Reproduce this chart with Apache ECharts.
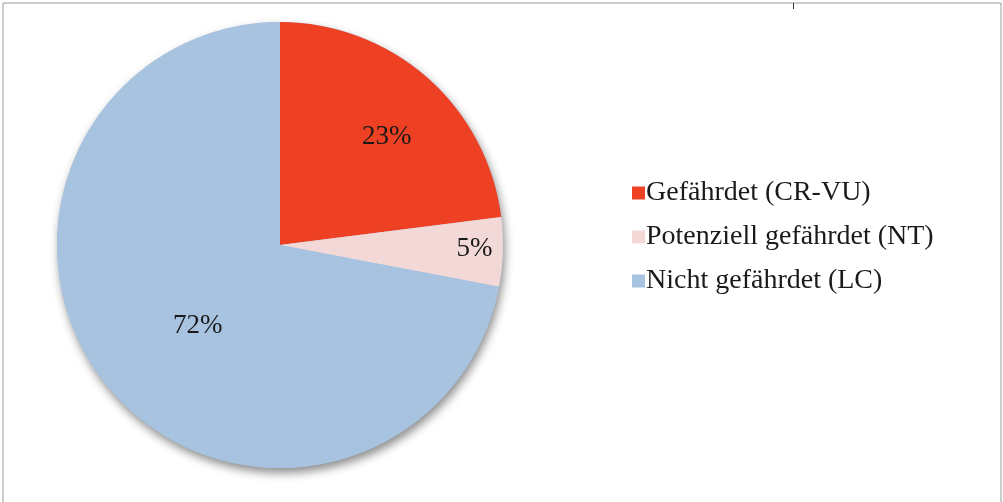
<!DOCTYPE html>
<html>
<head>
<meta charset="utf-8">
<script src="https://cdn.jsdelivr.net/npm/echarts@6/dist/echarts.min.js"></script>
<style>
  html, body { margin: 0; padding: 0; background: #fff; }
  #chart { width: 1003px; height: 502px; }
</style>
</head>
<body>
<div id="chart"></div>
<script>
const categories = ['Gefährdet (CR-VU)', 'Potenziell gefährdet (NT)', 'Nicht gefährdet (LC)'];
const shares = [23, 5, 72];
const colors = ['#ee4124', '#f3d8d8', '#a8c3e0'];

// label nudges (the original puts labels at varying distances from the centre)
const labelShift = [
  { dx: 31, dy: -22 },
  { dx: 80, dy: 0 },
  { dx: 6, dy: 8 },
];

const chart = echarts.init(document.getElementById('chart'));
const font = '"Liberation Serif", "Times New Roman", serif';

chart.setOption({
  animation: false,
  backgroundColor: '#fff',
  legend: {
    orient: 'vertical',
    left: 627,
    top: 174,
    itemWidth: 13,
    itemHeight: 13,
    itemGap: 16,
    icon: 'rect',
    textStyle: { fontFamily: font, fontSize: 28, color: '#1a1a1a', padding: [0, 0, 0, -4] },
    data: categories,
  },
  graphic: [
    {
      type: 'polyline',
      silent: true,
      shape: { points: [[3, 502], [3, 3], [1001, 3], [1001, 502]] },
      style: { stroke: '#999', lineWidth: 1, fill: null },
    },
    {
      type: 'line',
      silent: true,
      shape: { x1: 793.5, y1: 3, x2: 793.5, y2: 9 },
      style: { stroke: '#333', lineWidth: 1 },
    },
  ],
  series: [
    {
      // shadow layer under the pie
      type: 'pie',
      silent: true,
      center: [280, 245],
      radius: 223,
      startAngle: 90,
      label: { show: false },
      itemStyle: {
        color: '#a8c3e0',
        shadowBlur: 10,
        shadowOffsetY: 5,
        shadowOffsetX: 2,
        shadowColor: 'rgba(0,0,0,0.45)',
      },
      data: [{ name: '', value: shares.reduce((a, b) => a + b, 0) }],
      legendHoverLink: false,
    },
    {
      type: 'pie',
      center: [280, 245],
      radius: 223,
      startAngle: 90,
      clockwise: true,
      label: {
        show: true,
        position: 'inside',
        formatter: '{c}%',
        fontFamily: font,
        fontSize: 27,
        color: '#1a1a1a',
      },
      labelLayout: (p) => labelShift[p.dataIndex],
      labelLine: { show: false },
      data: categories.map((name, i) => ({
        name,
        value: shares[i],
        itemStyle: { color: colors[i] },
      })),
    },
  ],
});
</script>
</body>
</html>
